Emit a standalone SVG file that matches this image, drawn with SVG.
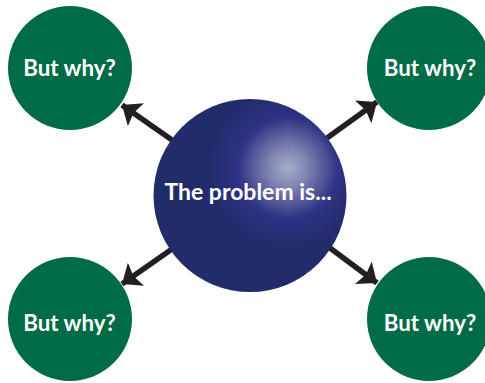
<svg xmlns="http://www.w3.org/2000/svg" width="485" height="383" viewBox="0 0 485 383">
<style>
.g{fill:#006b47}
.t{font-family:Lato,"Open Sans",sans-serif;font-weight:700;font-size:22.300px;fill:#fff;text-anchor:middle;font-variant-ligatures:none}
.m{font-size:23px}
.c{stroke:#231f20;stroke-width:5.500;fill:none;marker-end:url(#a)}
</style>
<defs>
<marker id="a" markerUnits="userSpaceOnUse" markerWidth="30" markerHeight="30" refX="17" refY="14" orient="auto"><path d="M0 0L17 14L0 28L3 14Z" fill="#231f20"/></marker>
<radialGradient id="b" gradientUnits="userSpaceOnUse" cx="288" cy="168" r="140">
<stop offset="0" stop-color="#a4aecb"/><stop offset=".14" stop-color="#8183b2"/><stop offset=".36" stop-color="#2e3383"/><stop offset=".56" stop-color="#222c6b"/><stop offset="1" stop-color="#222c6b"/>
</radialGradient>
</defs>
<g id="connectors">
<path class="c" d="M172 140L122 105"/>
<path class="c" d="M327 138L377 102"/>
<path class="c" d="M172 249L122 284"/>
<path class="c" d="M330 248L377 283"/>
</g>
<g id="center"><circle cx="250" cy="195.500" r="96.500" fill="url(#b)"/><text class="t m" x="248" y="199.500">The problem is...</text></g>
<g id="tl"><circle class="g" cx="70" cy="68" r="62"/><text class="t" x="69.500" y="76">But why?</text></g>
<g id="tr"><circle class="g" cx="429" cy="68" r="62"/><text class="t" x="430" y="76">But why?</text></g>
<g id="bl"><circle class="g" cx="70" cy="319" r="62"/><text class="t" x="69.500" y="331">But why?</text></g>
<g id="br"><circle class="g" cx="429" cy="319" r="62"/><text class="t" x="430" y="331">But why?</text></g>
</svg>
